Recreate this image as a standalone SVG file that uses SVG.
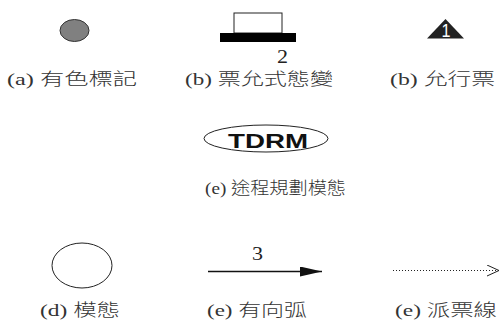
<svg xmlns="http://www.w3.org/2000/svg" width="500" height="322" viewBox="0 0 500 322">
<style>
.lbl{font-family:"Liberation Serif","Noto Sans CJK TC",serif;font-size:17.5px;font-weight:300;fill:#333}
.num{font-family:"Liberation Serif",serif;font-size:18px;fill:#222}
.sh{stroke:#222;stroke-width:1;fill:#fff}
</style>
<defs>
<marker id="solidHead" markerWidth="22" markerHeight="10" refX="22" refY="5" orient="auto" markerUnits="userSpaceOnUse">
<polygon points="0,0 22,5 0,10" fill="#111"/>
</marker>
<marker id="openHead" markerWidth="14" markerHeight="14" refX="13" refY="6" orient="auto" markerUnits="userSpaceOnUse">
<polyline points="1,0.5 13,6 1,11.5" fill="none" stroke="#222" stroke-width="1"/>
</marker>
</defs>
<rect width="500" height="322" fill="#fff"/>
<g id="node-colored-token">
<ellipse cx="74.5" cy="30.5" rx="14.5" ry="11" fill="#808080" stroke="#333" stroke-width="1"/>
<text class="lbl" x="7" y="85" textLength="130" lengthAdjust="spacingAndGlyphs">(a) 有色標記</text>
</g>
<g id="node-ticket-transition">
<rect class="sh" x="234" y="13" width="48" height="20"/>
<rect x="220" y="33" width="76" height="9" fill="#000"/>
<text class="num" x="277" y="63" textLength="11" lengthAdjust="spacingAndGlyphs">2</text>
<text class="lbl" x="185" y="85" textLength="148" lengthAdjust="spacingAndGlyphs">(b) 票允式態變</text>
</g>
<g id="node-permit-ticket">
<polygon points="427,38.5 445.5,19 464,38.5" fill="#222"/>
<text x="446" y="37" text-anchor="middle" font-family="Liberation Sans, sans-serif" font-size="18" fill="#fff" textLength="9" lengthAdjust="spacingAndGlyphs">1</text>
<text class="lbl" x="390" y="85" textLength="105" lengthAdjust="spacingAndGlyphs">(b) 允行票</text>
</g>
<g id="node-tdrm">
<ellipse class="sh" cx="266" cy="138.5" rx="62" ry="13.5"/>
<text x="228" y="148" font-family="Liberation Sans, sans-serif" font-weight="bold" font-size="21" fill="#111" textLength="80" lengthAdjust="spacingAndGlyphs">TDRM</text>
<text class="lbl" x="205" y="194" textLength="141" lengthAdjust="spacingAndGlyphs">(e) 途程規劃模態</text>
</g>
<g id="node-mode">
<ellipse class="sh" cx="82" cy="265.5" rx="30" ry="22.5"/>
<text class="lbl" x="40" y="316" textLength="80" lengthAdjust="spacingAndGlyphs">(d) 模態</text>
</g>
<g id="connectors">
<g id="directed-arc">
<line x1="208" y1="271.5" x2="322" y2="271.5" stroke="#111" stroke-width="1.3" marker-end="url(#solidHead)"/>
<text class="num" x="252" y="260" textLength="11" lengthAdjust="spacingAndGlyphs">3</text>
</g>
<g id="dispatch-line">
<line x1="393" y1="270.5" x2="499" y2="270.5" stroke="#222" stroke-width="1" stroke-dasharray="1,2" marker-end="url(#openHead)"/>
</g>
</g>
<g id="legend-arc-labels">
<text class="lbl" x="207" y="316" textLength="100" lengthAdjust="spacingAndGlyphs">(e) 有向弧</text>
<text class="lbl" x="395" y="316" textLength="102" lengthAdjust="spacingAndGlyphs">(e) 派票線</text>
</g>
</svg>
